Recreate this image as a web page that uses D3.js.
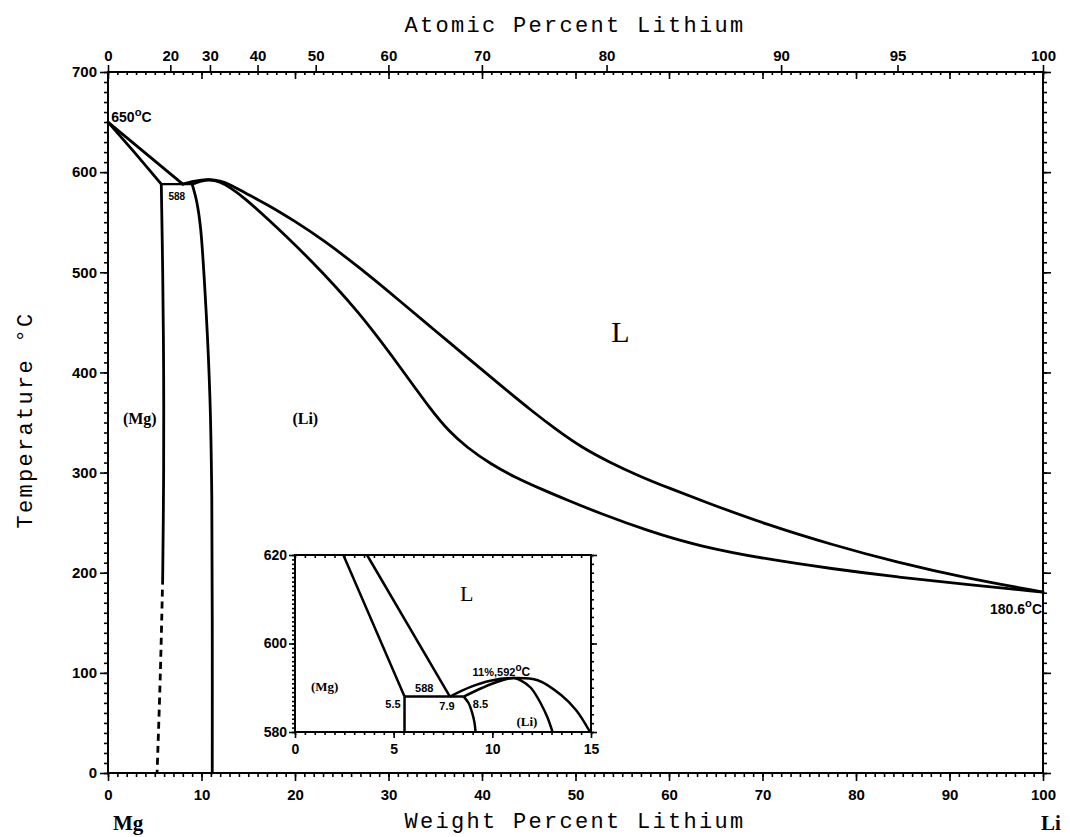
<!DOCTYPE html>
<html><head><meta charset="utf-8">
<script src="https://cdn.jsdelivr.net/npm/d3@7"></script>
<style>body{margin:0;background:#fff}</style>
</head><body>
<svg id="c" width="1070" height="837"></svg>
<script>
// ---------- tick labels ----------
const wtTicks = [0,10,20,30,40,50,60,70,80,90,100];
const atTicks = [0,20,30,40,50,60,70,80,90,95,100];
const tempTicks = [0,100,200,300,400,500,600,700];
const insetWtTicks = [0,5,10,15];
const insetTempTicks = [580,600,620];

// ---------- main diagram boundaries (wt% Li, °C) ----------
const mgLiquidus = [[0,650],[4.0,619],[8.0,588]];
const mgSolidus = [[0,650],[2.9,619],[5.7,588]];
const eutectic = [[5.7,588],[9.0,588]];
const mgSolvus = [[5.7,588],[5.85,500],[5.95,400],[5.95,300],[5.85,195]];
const mgSolvusDashed = [[5.85,195],[5.6,100],[5.25,0]];
const liSolvus = [[9.0,588],[9.5,570],[9.9,544],[10.5,460],[10.9,375],[11.1,276],[11.15,150],[11.15,0]];
const liLiquidus = [[8.0,588],[9.0,590.8],[10,592.3],[10.8,592.8],[12,591.5],[13,588],[14.5,580],[16.9,568.5],[20,551],[23,532.5],[27,504],[31.2,471.5],[34.7,444],[38.3,416],[41.8,388.5],[45.4,361],[48,342.5],[50.7,325],[53.5,311],[56.8,296.5],[60,284.5],[63.9,270.5],[70.3,248.5],[77.4,228],[84.5,210],[91.6,195],[100,180.6]];
const liSolidus = [[9.0,588],[10,591.2],[10.8,592.8],[12,590.5],[13,585],[14.5,575],[16.9,555],[21.6,513.5],[26.9,460],[31.2,406],[34.7,360.5],[36.5,341],[38.3,325.7],[41,308],[43.6,295],[46.5,282.8],[49,273],[52.6,259.3],[57.8,241.6],[63.2,226.5],[70.3,213.7],[77.4,204],[84.5,195.5],[91.6,188.5],[100,180.6]];

// ---------- inset boundaries ----------
const inMgSolidus = [[2.45,620],[5.55,588]];
const inMgLiquidus = [[3.65,620],[7.85,588]];
const inEutectic = [[5.55,588],[8.55,588]];
const inMgSolvus = [[5.55,588],[5.55,580]];
const inLiSolvus = [[8.55,588],[8.8,586.5],[9.0,584],[9.1,582],[9.15,580]];
const inLiLiquidus = [[7.85,588],[8.9,590.2],[9.9,591.6],[11.1,592.2],[12.3,591.7],[13.5,588.3],[14.25,584.9],[14.95,580]];
const inLiSolidus = [[8.55,588],[9.5,590],[10.3,591.4],[11.1,592.2],[11.5,591.5],[11.95,590],[12.45,586.5],[12.8,583.2],[13.05,580]];

// ---------- helpers ----------
const svg = d3.select("#c");
const x = d3.scaleLinear().domain([0,100]).range([108,1043]);
const y = d3.scaleLinear().domain([0,700]).range([773,72]);
const ix = d3.scaleLinear().domain([0,15]).range([295,591]);
const iy = d3.scaleLinear().domain([580,620]).range([732,555]);
const atToWt = a => a===0?0:100*a*6.941/(a*6.941+(100-a)*24.305);

const numFont = "'Liberation Sans', Arial, sans-serif";
const serif = "'Liberation Serif', 'Times New Roman', serif";
const mono = "'Liberation Mono', 'DejaVu Sans Mono', monospace";

function styleAxis(g, fs){
  g.select(".domain").remove();
  g.selectAll(".tick line").attr("stroke","#000").attr("stroke-width",1.6);
  g.selectAll(".tick text").attr("font-family",numFont).attr("font-weight","bold").attr("font-size",fs).attr("fill","#000");
}
function ticksRange(a,b,s){const r=[];for(let v=a;v<=b+1e-9;v+=s)r.push(+v.toFixed(4));return r;}

// ---------- main axes ----------
svg.append("g").attr("transform","translate(0,773)")
  .call(d3.axisBottom(x).tickValues(ticksRange(0,100,1)).tickSize(4).tickFormat(""))
  .call(g=>styleAxis(g,15));
svg.append("g").attr("transform","translate(0,773)")
  .call(d3.axisBottom(x).tickValues(wtTicks).tickSize(8).tickPadding(8).tickFormat(d3.format("d")))
  .call(g=>styleAxis(g,15));
svg.append("g").attr("transform","translate(0,72)")
  .call(d3.axisBottom(x).tickValues(ticksRange(0,100,1)).tickSize(3).tickFormat(""))
  .call(g=>styleAxis(g,15));
svg.append("g").attr("transform","translate(0,72)")
  .call(d3.axisBottom(x).tickValues(wtTicks).tickSize(7).tickFormat(""))
  .call(g=>styleAxis(g,15));
const atAxis = d3.axisTop(x).tickValues(atTicks.map(atToWt)).tickSize(7).tickPadding(4)
  .tickFormat((d,i)=>atTicks[i]);
svg.append("g").attr("transform","translate(0,72)").call(atAxis).call(g=>styleAxis(g,15));
svg.append("g").attr("transform","translate(108,0)")
  .call(d3.axisLeft(y).tickValues(ticksRange(0,700,10)).tickSize(4).tickFormat(""))
  .call(g=>styleAxis(g,15));
svg.append("g").attr("transform","translate(108,0)")
  .call(d3.axisLeft(y).tickValues(tempTicks).tickSize(8).tickPadding(3).tickFormat(d3.format("d")))
  .call(g=>styleAxis(g,15));
svg.append("g").attr("transform","translate(1043,0)")
  .call(d3.axisRight(y).tickValues(ticksRange(0,700,10)).tickSize(4).tickFormat(""))
  .call(g=>styleAxis(g,15));
svg.append("g").attr("transform","translate(1043,0)")
  .call(d3.axisRight(y).tickValues(tempTicks).tickSize(8).tickFormat(""))
  .call(g=>styleAxis(g,15));
svg.append("rect").attr("x",x(0)).attr("y",y(700)).attr("width",x(100)-x(0)).attr("height",y(0)-y(700))
  .attr("fill","none").attr("stroke","#000").attr("stroke-width",2);

// ---------- main curves ----------
const lineCR = d3.line().x(d=>x(d[0])).y(d=>y(d[1])).curve(d3.curveCatmullRom.alpha(0.5));
const lineBasis = d3.line().x(d=>x(d[0])).y(d=>y(d[1])).curve(d3.curveBasis);
const lineLin = d3.line().x(d=>x(d[0])).y(d=>y(d[1]));
const curves = svg.append("g").attr("fill","none").attr("stroke","#000").attr("stroke-width",2.8)
  .attr("stroke-linejoin","round").attr("stroke-linecap","round");
curves.append("path").attr("d",lineLin(mgLiquidus));
curves.append("path").attr("d",lineLin(mgSolidus));
curves.append("path").attr("d",lineLin(eutectic)).attr("stroke-width",2.2);
curves.append("path").attr("d",lineCR(mgSolvus));
curves.append("path").attr("d",lineCR(mgSolvusDashed)).attr("stroke-dasharray","7,5").attr("stroke-linecap","butt");
curves.append("path").attr("d",lineCR(liSolvus));
curves.append("path").attr("d",lineBasis(liLiquidus));
curves.append("path").attr("d",lineBasis(liSolidus));

// ---------- main labels ----------
function degLabel(px, py, num, size, anchor){
  const t = svg.append("text").attr("x",px).attr("y",py).attr("font-family",numFont)
    .attr("font-weight","bold").attr("font-size",size).attr("text-anchor",anchor||"start");
  t.append("tspan").text(num);
  t.append("tspan").text("o").attr("dy",-size*0.45).attr("font-size",size*0.8);
  t.append("tspan").text("C").attr("dy",size*0.45);
  return t;
}
degLabel(x(0.35), y(650), "650", 14);
degLabel(x(99.9), y(159), "180.6", 14, "end");
svg.append("text").attr("x",x(7.35)).attr("y",y(572)).attr("text-anchor","middle")
  .attr("font-family",numFont).attr("font-weight","bold").attr("font-size",10).text("588");
svg.append("text").attr("x",x(3.4)).attr("y",y(349)).attr("text-anchor","middle")
  .attr("font-family",serif).attr("font-weight","bold").attr("font-size",16).text("(Mg)");
svg.append("text").attr("x",x(21.1)).attr("y",y(349)).attr("text-anchor","middle")
  .attr("font-family",serif).attr("font-weight","bold").attr("font-size",16).text("(Li)");
svg.append("text").attr("x",x(54.8)).attr("y",y(430)).attr("text-anchor","middle")
  .attr("font-family",serif).attr("font-size",30).text("L");

// axis titles
svg.append("text").attr("x",575).attr("y",32).attr("text-anchor","middle")
  .attr("font-family",mono).attr("font-size",22).attr("letter-spacing",2.3).text("Atomic Percent Lithium");
svg.append("text").attr("x",575).attr("y",828).attr("text-anchor","middle")
  .attr("font-family",mono).attr("font-size",22).attr("letter-spacing",2.3).text("Weight Percent Lithium");
svg.append("text").attr("transform","translate(32,420) rotate(-90)").attr("text-anchor","middle")
  .attr("font-family",mono).attr("font-size",22).attr("letter-spacing",2.3).text("Temperature °C");
svg.append("text").attr("x",113).attr("y",830).attr("font-family",serif).attr("font-size",21).attr("font-weight","bold").text("Mg");
svg.append("text").attr("x",1041).attr("y",830).attr("font-family",serif).attr("font-size",21).attr("font-weight","bold").text("Li");

// ---------- inset ----------
const ins = svg.append("g");
ins.append("rect").attr("x",ix(0)).attr("y",iy(620)).attr("width",ix(15)-ix(0)).attr("height",iy(580)-iy(620))
  .attr("fill","#fff").attr("stroke","none");
function iAxis(gen, tx, ty){ return ins.append("g").attr("transform",`translate(${tx},${ty})`).call(gen).call(g=>styleAxis(g,14)); }
iAxis(d3.axisBottom(ix).tickValues(ticksRange(0,15,0.5)).tickSize(3).tickFormat(""),0,iy(580));
iAxis(d3.axisBottom(ix).tickValues(insetWtTicks).tickSize(6).tickPadding(6).tickFormat(d3.format("d")),0,iy(580));
iAxis(d3.axisBottom(ix).tickValues(ticksRange(0,15,0.5)).tickSize(3).tickFormat(""),0,iy(620));
iAxis(d3.axisLeft(iy).tickValues(ticksRange(580,620,1)).tickSize(3).tickFormat(""),ix(0),0);
iAxis(d3.axisLeft(iy).tickValues(insetTempTicks).tickSize(6).tickPadding(2).tickFormat(d3.format("d")),ix(0),0);
iAxis(d3.axisRight(iy).tickValues(ticksRange(580,620,2)).tickSize(3).tickFormat(""),ix(15),0);
iAxis(d3.axisRight(iy).tickValues(insetTempTicks).tickSize(6).tickFormat(""),ix(15),0);
ins.append("rect").attr("x",ix(0)).attr("y",iy(620)).attr("width",ix(15)-ix(0)).attr("height",iy(580)-iy(620))
  .attr("fill","none").attr("stroke","#000").attr("stroke-width",2);

const iLin = d3.line().x(d=>ix(d[0])).y(d=>iy(d[1]));
const iCR = d3.line().x(d=>ix(d[0])).y(d=>iy(d[1])).curve(d3.curveCatmullRom.alpha(0.5));
const ic = ins.append("g").attr("fill","none").attr("stroke","#000").attr("stroke-width",2.5).attr("stroke-linejoin","round");
ic.append("path").attr("d",iLin(inMgSolidus));
ic.append("path").attr("d",iLin(inMgLiquidus));
ic.append("path").attr("d",iLin(inEutectic));
ic.append("path").attr("d",iLin(inMgSolvus));
ic.append("path").attr("d",iCR(inLiSolvus));
ic.append("path").attr("d",iCR(inLiLiquidus));
ic.append("path").attr("d",iCR(inLiSolidus));

function iText(wt,t,txt,opts){
  const o=Object.assign({size:11,anchor:"middle",font:numFont,weight:"bold"},opts||{});
  return ins.append("text").attr("x",ix(wt)).attr("y",iy(t)).attr("text-anchor",o.anchor)
    .attr("font-family",o.font).attr("font-weight",o.weight).attr("font-size",o.size).text(txt);
}
iText(8.7,609.5,"L",{size:22,font:serif,weight:"normal"});
iText(1.5,589.3,"(Mg)",{size:13,font:serif});
iText(5.35,585.4,"5.5",{anchor:"end"});
iText(6.55,589,"588");
iText(7.7,585,"7.9");
iText(9.4,585.4,"8.5");
iText(11.75,581.3,"(Li)",{size:13,font:serif});
const mx = ins.append("text").attr("x",ix(9.0)).attr("y",iy(592.7)).attr("font-family",numFont)
  .attr("font-weight","bold").attr("font-size",11);
mx.append("tspan").text("11%,592");
mx.append("tspan").text("o").attr("dy",-5).attr("font-size",10);
mx.append("tspan").text("C").attr("dy",5).attr("font-size",12);
</script>
</body></html>
